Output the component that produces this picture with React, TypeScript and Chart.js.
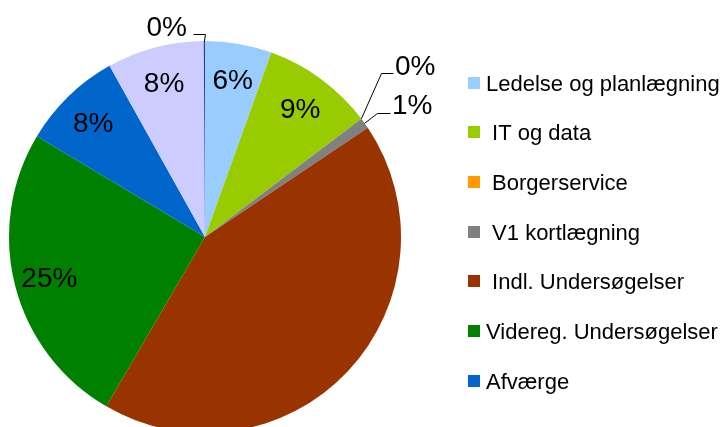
import React, { useEffect, useRef } from "react";
import { Chart, registerables } from "chart.js";

Chart.register(...registerables);

const categories = [
  "Ledelse og planlægning",
  " IT og data",
  " Borgerservice",
  " V1 kortlægning",
  " Indl. Undersøgelser",
  "Videreg. Undersøgelser",
  "Afværge",
  "Øvrige",
  "Andet",
];
const values = [5.5, 9.2, 0.0, 0.9, 42.8, 25.2, 8.3, 8.0, 0.1];
const colors = [
  "#99CCFF",
  "#99CC00",
  "#FF9900",
  "#808080",
  "#993300",
  "#008000",
  "#0066CC",
  "#CCCCFF",
  "#333399",
];
const legendCount = 7;

const FONT = '"Liberation Sans", Arial, sans-serif';

// label placement per slice: inside / outside (with leader) / hidden
const placement: any[] = [
  { mode: "in" },
  { mode: "in" },
  { mode: "out", elbow: [176, -164], end: [188, -164], text: [190, -162], align: "left" },
  { mode: "out", elbow: [172, -124], end: [185, -124], text: [187, -123], align: "left" },
  { mode: "none" },
  { mode: "in" },
  { mode: "in" },
  { mode: "in" },
  { mode: "out", elbow: [0, -203], end: [-12, -203], text: [-18, -201], align: "right" },
];

const labelPlugin = {
  id: "pctLabels",
  afterDatasetsDraw(chart: any) {
    const ctx = chart.ctx;
    const meta = chart.getDatasetMeta(0);
    const data: number[] = chart.data.datasets[0].data;
    const total = data.reduce((a, b) => a + b, 0);
    ctx.save();
    ctx.font = `28px ${FONT}`;
    ctx.fillStyle = "#000";
    ctx.strokeStyle = "#000";
    ctx.lineWidth = 1;
    meta.data.forEach((arc: any, i: number) => {
      const p = placement[i];
      if (!p || p.mode === "none") return;
      const txt = Math.round((data[i] / total) * 100) + "%";
      const cx = arc.x;
      const cy = arc.y;
      const R = arc.outerRadius;
      const mid = (arc.startAngle + arc.endAngle) / 2;
      if (p.mode === "in") {
        const r = R * 0.82;
        const x = cx + Math.cos(mid) * r;
        const y = cy + Math.sin(mid) * r;
        ctx.textAlign = "center";
        ctx.textBaseline = "alphabetic";
        ctx.fillText(txt, x, y + 10);
      } else {
        const sx = cx + Math.cos(mid) * R;
        const sy = cy + Math.sin(mid) * R;
        ctx.beginPath();
        ctx.moveTo(sx, sy);
        ctx.lineTo(cx + p.elbow[0] + 0.5, cy + p.elbow[1] + 0.5);
        ctx.lineTo(cx + p.end[0] + 0.5, cy + p.end[1] + 0.5);
        ctx.stroke();
        ctx.textAlign = p.align;
        ctx.textBaseline = "alphabetic";
        ctx.fillText(txt, cx + p.text[0], cy + p.text[1]);
      }
    });
    // legend
    ctx.font = `22px ${FONT}`;
    ctx.textAlign = "left";
    ctx.textBaseline = "alphabetic";
    const labels: string[] = chart.data.labels;
    labels.slice(0, legendCount).forEach((lab, i) => {
      const yc = 82.5 + 49.7 * i;
      ctx.fillStyle = colors[i];
      ctx.fillRect(468, Math.round(yc - 6), 12, 12);
      ctx.fillStyle = "#000";
      ctx.fillText(lab, 486, yc + 8);
    });
    ctx.restore();
  },
};

export default function App() {
  const ref = useRef<HTMLCanvasElement>(null);
  useEffect(() => {
    document.body.style.margin = "0";
    document.body.style.overflow = "hidden";
    const chart = new Chart(ref.current as HTMLCanvasElement, {
      type: "pie",
      data: {
        labels: categories,
        datasets: [
          {
            data: values,
            backgroundColor: colors,
            borderWidth: 0,
          },
        ],
      },
      options: {
        responsive: false,
        animation: false,
        devicePixelRatio: 1,
        layout: { padding: { left: 9, right: 325, top: 41, bottom: 7 } },
        plugins: {
          legend: { display: false },
          tooltip: { enabled: false },
        },
      },
      plugins: [labelPlugin],
    });
    return () => chart.destroy();
  }, []);
  return (
    <div style={{ position: "fixed", left: 0, top: 0, width: 726, height: 440, background: "#fff" }}>
      <canvas ref={ref} width={726} height={440} style={{ display: "block" }} />
    </div>
  );
}
